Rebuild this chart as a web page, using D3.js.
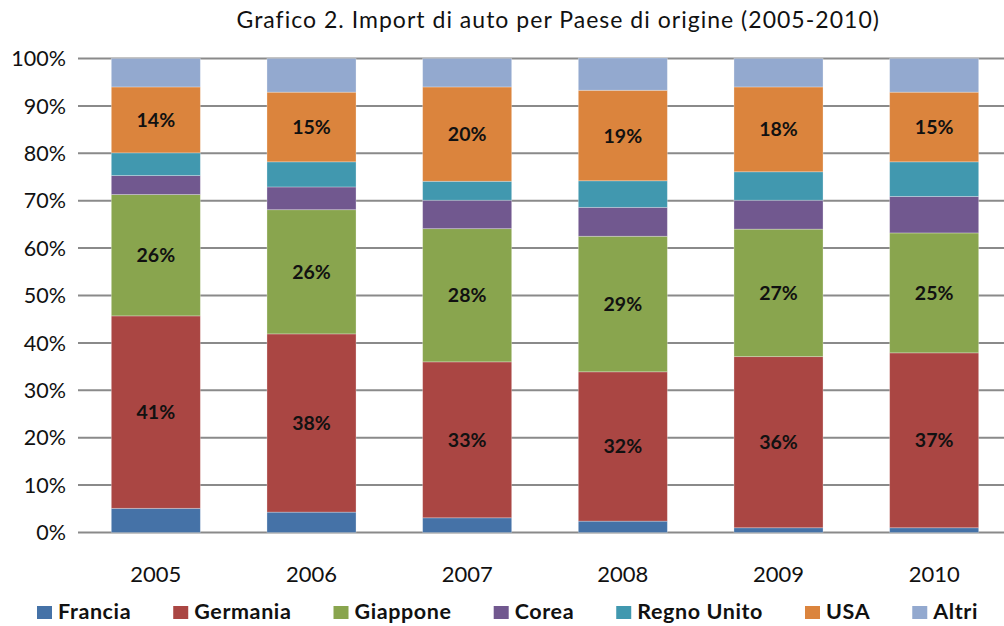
<!DOCTYPE html>
<html><head><meta charset="utf-8">
<script src="https://cdn.jsdelivr.net/npm/d3@7"></script>
<style>body{margin:0;background:#fff}svg{display:block}text{font-family:Lato,"Open Sans",sans-serif}</style>
</head><body><svg id="c" width="1004" height="626"></svg>
<script>
const years = ["2005","2006","2007","2008","2009","2010"];
const seriesNames = ["Francia","Germania","Giappone","Corea","Regno Unito","USA","Altri"];
const colors = ["#4572A7","#AA4643","#89A54E","#71588F","#4198AF","#DB843D","#93A9CF"];
const francia  = [5.1, 4.3, 3.1, 2.4, 1.0, 1.0];
const germania = [40.6, 37.6, 32.9, 31.5, 36.1, 36.9];
const giappone = [25.6, 26.2, 28.1, 28.6, 26.9, 25.3];
const corea    = [4.0, 4.8, 6.0, 6.1, 6.1, 7.7];
const regnoUnito = [4.8, 5.3, 4.0, 5.6, 6.0, 7.3];
const usa      = [13.9, 14.7, 19.9, 19.1, 17.9, 14.7];
const altri    = [6.0, 7.1, 6.0, 6.8, 6.0, 7.1];
const labelled = ["Germania","Giappone","USA"];
const yTicks = [0,0.1,0.2,0.3,0.4,0.5,0.6,0.7,0.8,0.9,1];
const title = "Grafico 2. Import di auto per Paese di origine (2005-2010)";

const seriesVals = [francia, germania, giappone, corea, regnoUnito, usa, altri];
const rows = years.map((y,i)=>{const r={year:y}; seriesNames.forEach((s,j)=>r[s]=seriesVals[j][i]/100); return r;});
const stack = d3.stack().keys(seriesNames)(rows);

const svg = d3.select("#c");
const x = d3.scaleBand().domain(years).range([78,1012]).paddingInner(0.428).paddingOuter(0.214);
const y = d3.scaleLinear().domain([0,1]).range([532.5,58.5]);

const tt = svg.append("text").attr("x",558).attr("y",28).attr("text-anchor","middle")
  .attr("font-size",23).attr("letter-spacing",0.6).attr("fill","#111").text(title);
tt.attr("textLength",643).attr("lengthAdjust","spacing");

const grid = svg.append("g");
grid.selectAll("line").data(yTicks).join("line")
  .attr("x1",78).attr("x2",1004).attr("y1",d=>y(d)).attr("y2",d=>y(d))
  .attr("stroke","#8a8a8a").attr("stroke-width",2);

svg.append("g").selectAll("text").data(yTicks).join("text")
  .attr("x",66).attr("y",d=>y(d)).attr("dy","0.36em").attr("text-anchor","end")
  .attr("font-size",21.5).attr("fill","#111").text(d3.format(".0%"));

const g = svg.append("g");
stack.forEach((layer,j)=>{
  g.append("g").selectAll("rect").data(layer).join("rect")
    .attr("x",d=>x(d.data.year)).attr("width",x.bandwidth())
    .attr("y",d=>y(d[1])).attr("height",d=>y(d[0])-y(d[1]))
    .attr("fill",colors[j]).attr("stroke","rgba(255,255,255,0.35)").attr("stroke-width",0.8);
  if(labelled.includes(layer.key)){
    g.append("g").selectAll("text").data(layer).join("text")
      .attr("x",d=>x(d.data.year)+x.bandwidth()/2).attr("y",d=>(y(d[0])+y(d[1]))/2)
      .attr("dy","0.36em").attr("text-anchor","middle").attr("font-weight","bold")
      .attr("font-size",19.5).attr("fill","#111")
      .text(d=>Math.round((d[1]-d[0])*100)+"%");
  }
});

svg.append("g").selectAll("text").data(years).join("text")
  .attr("x",d=>x(d)+x.bandwidth()/2).attr("y",574).attr("dy","0.36em")
  .attr("text-anchor","middle").attr("font-size",22).attr("fill","#111").text(d=>d);

// legend: items laid out in a row spanning the reference width
const leg = svg.append("g");
const its = seriesNames.map((s,j)=>{
  const it = leg.append("g");
  it.append("rect").attr("x",0).attr("y",-6).attr("width",15).attr("height",13).attr("fill",colors[j]);
  const t = it.append("text").attr("x",21).attr("y",0).attr("dy","0.34em").attr("font-weight","bold")
    .attr("font-size",21.5).attr("letter-spacing",0.6).attr("fill","#111").text(s);
  return {it, w: 21 + t.node().getComputedTextLength()};
});
const legW = 941;
const gap = (legW - d3.sum(its, d=>d.w)) / (its.length - 1);
let cx = 37;
its.forEach(d=>{ d.it.attr("transform",`translate(${cx},612)`); cx += d.w + gap; });
</script></body></html>
